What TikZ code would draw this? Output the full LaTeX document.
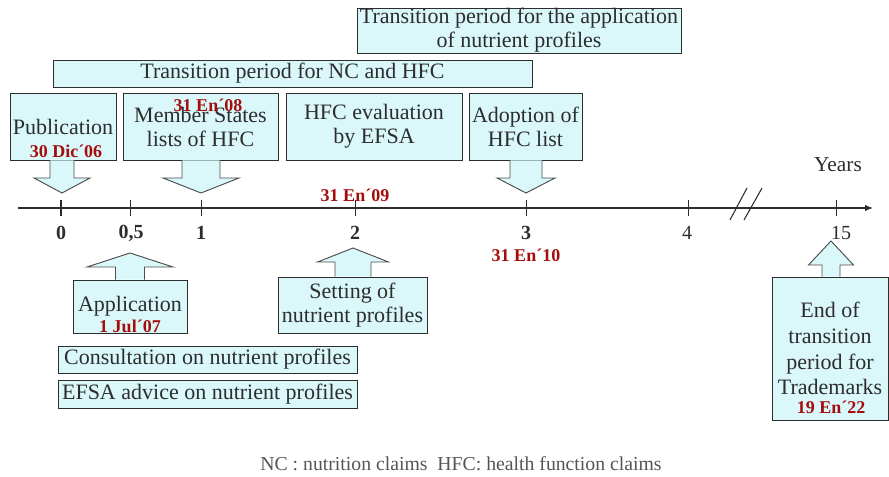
\documentclass[tikz,border=0pt]{standalone}
\usepackage{fontspec}
\setmainfont{Liberation Serif}
\usetikzlibrary{arrows.meta, calc}
\definecolor{boxfill}{RGB}{218,248,250}
\definecolor{ink}{RGB}{45,45,45}
\definecolor{datered}{RGB}{165,12,12}
\definecolor{notegray}{RGB}{85,85,85}

\begin{document}
\begin{tikzpicture}[
  x=0.75pt, y=-0.75pt,
  every node/.style={inner sep=0pt, text=ink},
  box/.style={draw=ink, line width=0.7pt, fill=boxfill, align=center,
    font=\fontsize{16.5}{18}\selectfont},
  sz/.style 2 args={minimum width=#1*0.75pt, minimum height=#2*0.75pt},
  blk/.style={draw=ink!85, line width=0.7pt, fill=boxfill},
  date/.style={text=datered, font=\fontsize{13.5}{15}\selectfont\bfseries},
  ticklab/.style={font=\fontsize{15}{16}\selectfont},
]
  \useasboundingbox (0,0) rectangle (889,477);

  % Period boxes
  \node[box, sz={324}{45}] (nutper) at (519,30.5)
       {Transition period for the application\\of nutrient profiles};
  \node[box, sz={479}{27}] (nchfc) at (292.5,73.5)
       {Transition period for NC and HFC};

  % Milestone boxes above the axis
  \node[box, sz={106}{67}] (pub)   at (63,126.5)    {Publication};
  \node[box, sz={155}{67}] (ms)    at (200.5,126.5) {Member States\\lists of HFC};
  \node[box, sz={176}{67}] (hfce)  at (374,126.5)   {HFC evaluation\\by EFSA};
  \node[box, sz={113}{67}] (adopt) at (525.5,126.5) {Adoption of\\HFC list};

  % Milestone boxes below the axis
  \node[box, sz={114}{53}]  (appl)  at (130,306.5)  {Application};
  \node[box, sz={149}{56}]  (setp)  at (352.5,305)  {Setting of\\nutrient profiles};
  \node[box, sz={299}{27}]  (cons)  at (207.5,359.5) {Consultation on nutrient profiles};
  \node[box, sz={299}{28}]  (efsa)  at (207.5,394)   {EFSA advice on nutrient profiles};
  \node[box, sz={116}{143}, font=\fontsize{16.5}{19.3}\selectfont] (endtr) at (830,348.5)
       {End of\\transition\\period for\\Trademarks};

  % Time axis
  \coordinate (axL) at (18,208);
  \coordinate (axR) at (873,208);
  \draw[ink, line width=1pt, -{Latex[length=6pt, width=5pt]}] (axL) -- (axR);
  \foreach \n/\x in {05/130, 1/201, 2/355, 3/526, 4/688, 15/836} {
    \coordinate (t\n) at (\x,208);
    \draw[ink, line width=0.7pt] ($(t\n)+(0,-8)$) -- ($(t\n)+(0,8)$);
  }
  \coordinate (t0) at (61,208);
  \draw[ink, line width=1.6pt] ($(t0)+(0,-8)$) -- ($(t0)+(0,8)$);

  % Tick labels
  \foreach \n/\x/\lab in {0/61/0, 05/131/{0,5}, 1/201/1, 2/355/2, 3/526/3} {
    \node[ticklab, font=\fontsize{15}{16}\selectfont\bfseries] (l\n) at (\x,233) {\lab};
  }
  \node[ticklab] (l4) at (687,233) {4};
  \node[ticklab] (l15) at (841,233) {15};
  \node[font=\fontsize{16}{17}\selectfont] (years) at (838,165) {Years};

  % Axis break
  \draw[ink, line width=0.8pt] (730,220) -- (747,188);
  \draw[ink, line width=0.8pt] (744,220) -- (762,188);

  % Arrow tips on the axis
  \coordinate (tp0) at (62,193);
  \coordinate (tp1) at (201,193);
  \coordinate (tp3) at (526,193);
  \coordinate (tpa) at (130,253);
  \coordinate (tps) at (353,248);
  \coordinate (tpe) at (831,241);

  % Block arrows pointing down
  \foreach \bx/\tp/\sh/\hh/\hl in {pub/tp0/12/28/15, ms/tp1/19/38/15, adopt/tp3/16/29/15} {
    \draw[blk] ($(\tp |- \bx.south)+(-\sh,0)$) -- ($(\tp)+(-\sh,-\hl)$)
      -- ($(\tp)+(-\hh,-\hl)$) -- (\tp) -- ($(\tp)+(\hh,-\hl)$)
      -- ($(\tp)+(\sh,-\hl)$) -- ($(\tp |- \bx.south)+(\sh,0)$);
  }
  % Block arrows pointing up
  \foreach \bx/\tp/\sh/\hh/\hl in {appl/tpa/14.5/43/14, setp/tps/18/35.5/14, endtr/tpe/9/22.5/24} {
    \draw[blk] ($(\tp |- \bx.north)+(-\sh,0)$) -- ($(\tp)+(-\sh,\hl)$)
      -- ($(\tp)+(-\hh,\hl)$) -- (\tp) -- ($(\tp)+(\hh,\hl)$)
      -- ($(\tp)+(\sh,\hl)$) -- ($(\tp |- \bx.north)+(\sh,0)$);
  }

  % Dates
  \node[date] (d06) at (66,151)  {30 Dic´06};
  \node[date] (d08) at (208,105) {31 En´08};
  \node[date] (d09) at (355,195) {31 En´09};
  \node[date] (d10) at (526,255) {31 En´10};
  \node[date] (d07) at (130,326) {1 Jul´07};
  \node[date] (d22) at (831,407) {19 En´22};

  % Footnote
  \node[text=notegray, font=\fontsize{14.8}{16}\selectfont] (note) at (461,464)
       {NC : nutrition claims\enspace HFC: health function claims};
\end{tikzpicture}
\end{document}
